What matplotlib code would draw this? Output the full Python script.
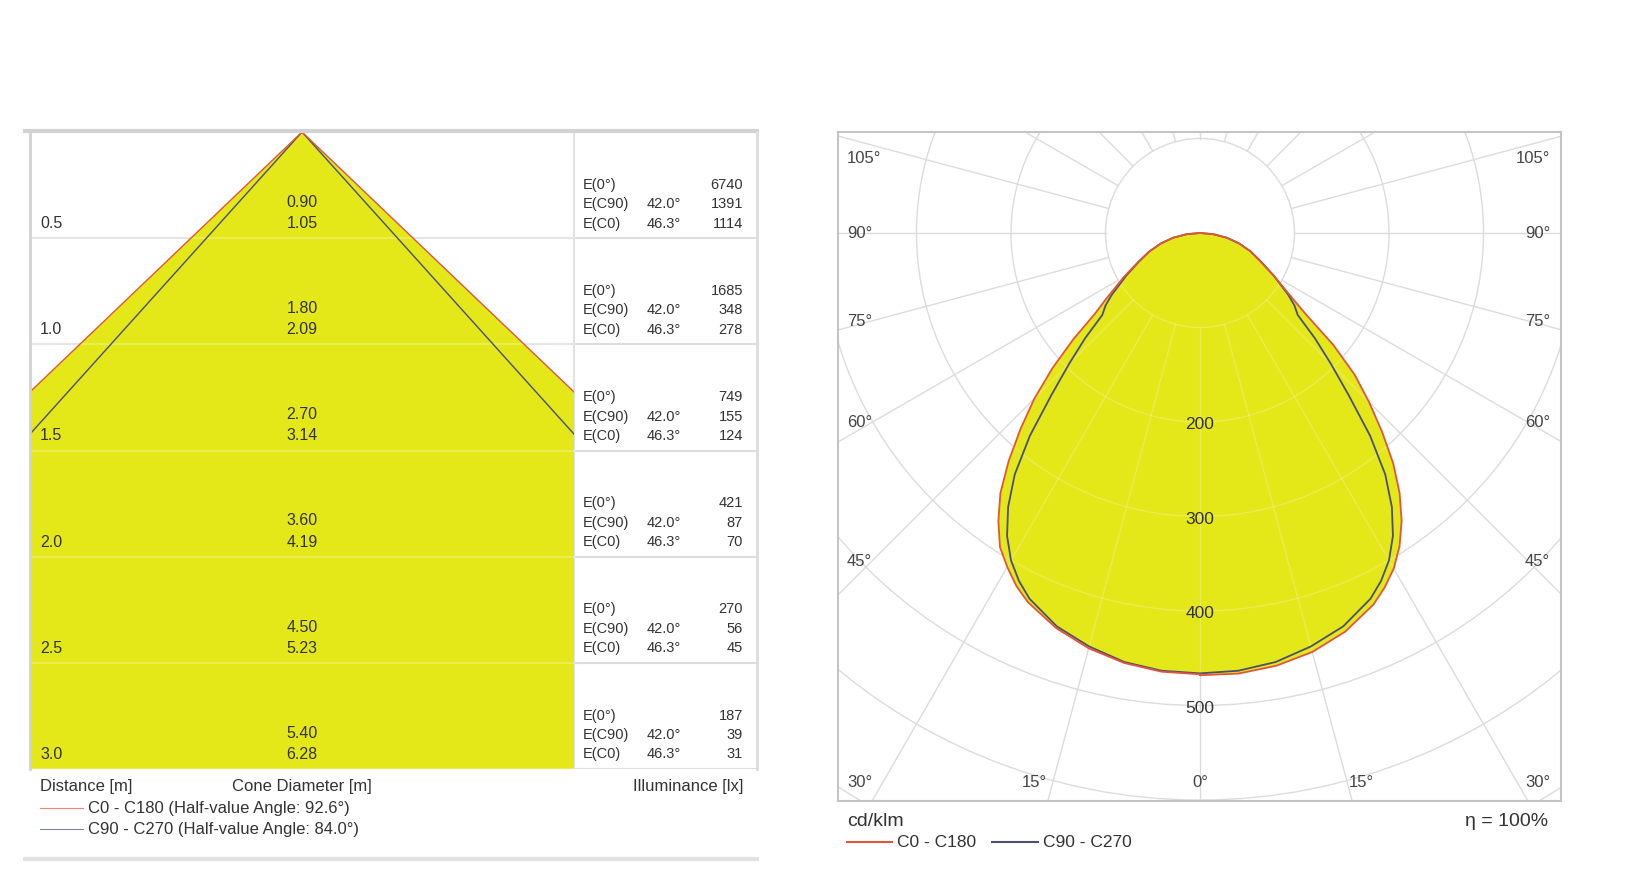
import numpy as np
import matplotlib
matplotlib.use('Agg')
import matplotlib.pyplot as plt
from matplotlib.lines import Line2D
from matplotlib.patches import Rectangle, Circle, Polygon

# cone diagram data
distances = [0.5, 1.0, 1.5, 2.0, 2.5, 3.0]
diam_c90 = [0.90, 1.80, 2.70, 3.60, 4.50, 5.40]
diam_c0 = [1.05, 2.09, 3.14, 4.19, 5.23, 6.28]
e_0 = [6740, 1685, 749, 421, 270, 187]
e_c90 = [1391, 348, 155, 87, 56, 39]
e_c0 = [1114, 278, 124, 70, 45, 31]
half_angle_c0 = 92.6
half_angle_c90 = 84.0

# polar diagram data (cd/klm), gamma 0 = straight down
gammas = [0, 5, 10, 15, 20, 25, 27.5, 30, 32.5, 35, 37.5, 40, 42.5, 45, 47.5, 50, 52.5, 55,
          60, 65, 70, 75, 80, 85, 90]
i_c0 = [468, 468, 465, 459, 449, 434, 423, 410, 393, 372, 347, 318, 285, 253, 222, 184, 141, 118,
        90, 70, 57, 43, 29, 14, 0]
i_c180 = [467, 466, 462, 455, 445, 431, 421, 408, 394, 372, 347, 315, 281, 248, 212, 175, 140, 121,
          93, 72, 57, 43, 29, 14, 0]
i_c90 = [466, 465, 461, 453, 443, 427, 415, 400, 380, 354, 322, 280, 233, 196, 165, 135, 126, 114,
         90, 71, 57, 43, 29, 14, 0]
i_c270 = i_c90
ring_labels = [200, 300, 400, 500]

FONT = ['Liberation Sans', 'DejaVu Sans']
plt.rcParams['font.family'] = FONT
YELLOW = '#E4E718'
RED = '#E2553A'
BLUE = '#4B4F78'
GRID = '#DCDCDC'
TXT = '#333333'

W, H = 1630, 879
fig = plt.figure(figsize=(W / 100, H / 100), dpi=100)
fx = lambda px: px / W
fy = lambda py: 1 - py / H

# ---------------- left: cone diagram ----------------
top, bot = 133, 770
scale = (bot - top) / 3.0
xl = 272 / scale
xr = 455 / scale
ax = fig.add_axes([fx(30), fy(bot), 727 / W, (bot - top) / H])
ax.set_xlim(-xl, xr)
ax.set_ylim(3, 0)
ax.axis('off')

clip = Rectangle((-xl, 0), 2 * xl, 3, transform=ax.transData, fill=False)
t0 = np.tan(np.radians(half_angle_c0 / 2))
t90 = np.tan(np.radians(half_angle_c90 / 2))
dmax = distances[-1]
cone = Polygon([(0, 0), (-t0 * dmax, dmax), (t0 * dmax, dmax)], closed=True,
               facecolor=YELLOW, edgecolor='none', zorder=2)
ax.add_patch(cone)
cone.set_clip_path(clip)
for t, c in [(t90, BLUE), (t0, RED)]:
    ln, = ax.plot([-t * dmax, 0, t * dmax], [dmax, 0, dmax], color=c, lw=1.0, zorder=4)
    ln.set_clip_path(clip)

for d in distances:
    ax.plot([-xl, xr], [d, d], color='#DDDDDD', lw=1.5, zorder=1)
    ax.plot([-xl, xl], [d, d], color='white', lw=1.5, alpha=0.25, zorder=3)
ax.plot([xl, xl], [0, 3], color='#DDDDDD', lw=1.2, zorder=1)

for i, d in enumerate(distances):
    ax.text(-xl + 10 / scale, d - 0.073, f'{d:.1f}', ha='left', va='center', fontsize=11.5, color=TXT, zorder=5)
    ax.text(0, d - 0.173, f'{diam_c90[i]:.2f}', ha='center', va='center', fontsize=11.5, color=TXT, zorder=5)
    ax.text(0, d - 0.073, f'{diam_c0[i]:.2f}', ha='center', va='center', fontsize=11.5, color=TXT, zorder=5)
    rows = [('E(0°)', '', e_0[i]),
            ('E(C90)', f'{half_angle_c90 / 2:.1f}°', e_c90[i]),
            ('E(C0)', f'{half_angle_c0 / 2:.1f}°', e_c0[i])]
    for k, (lab, ang, val) in enumerate(rows):
        yy = d - 0.256 + k * 0.0915
        ax.text(xl + 9 / scale, yy, lab, ha='left', va='center', fontsize=10.5, color=TXT)
        ax.text(xl + 90 / scale, yy, ang, ha='center', va='center', fontsize=10.5, color=TXT)
        ax.text(xl + 169 / scale, yy, str(val), ha='right', va='center', fontsize=10.5, color=TXT)

yb = 3 + 17 / scale
ax.text(-xl + 10 / scale, yb, 'Distance [m]', ha='left', va='center', fontsize=12, color=TXT)
ax.text(0, yb, 'Cone Diameter [m]', ha='center', va='center', fontsize=12, color=TXT)
ax.text(xl + 169 / scale, yb, 'Illuminance [lx]', ha='right', va='center', fontsize=12, color=TXT)
lx0, lx1 = -xl + 10 / scale, -xl + 53 / scale
ly0, ly1 = 3 + 39 / scale, 3 + 60 / scale
ax.plot([lx0, lx1], [ly0, ly0], color=RED, lw=0.8, alpha=0.7, clip_on=False)
ax.plot([lx0, lx1], [ly1, ly1], color=BLUE, lw=0.8, alpha=0.7, clip_on=False)
ax.text(lx1 + 5 / scale, ly0, f'C0 - C180 (Half-value Angle: {half_angle_c0}°)', ha='left',
        va='center', fontsize=12, color=TXT)
ax.text(lx1 + 5 / scale, ly1, f'C90 - C270 (Half-value Angle: {half_angle_c90}°)', ha='left',
        va='center', fontsize=12, color=TXT)

fig.add_artist(Line2D([fx(25), fx(757)], [fy(top - 1), fy(top - 1)], color='#D2D2D2', lw=3))
fig.add_artist(Line2D([fx(30), fx(30)], [fy(top), fy(bot)], color='#D2D2D2', lw=2))
fig.add_artist(Line2D([fx(757), fx(757)], [fy(top), fy(bot)], color='#DDDDDD', lw=2))
fig.add_artist(Line2D([fx(25), fx(757)], [fy(860), fy(860)], color='#E2E2E2', lw=3))

# ---------------- right: polar diagram ----------------
k = 0.945  # px per cd/klm
cx, cy = 1200, 234
pax = fig.add_axes([fx(838), fy(802), 723 / W, 669 / H])
pax.set_xlim((838 - cx) / k, (1561 - cx) / k)
pax.set_ylim((cy - 802) / k, (cy - 133) / k)
pax.set_xticks([])
pax.set_yticks([])
for s in pax.spines.values():
    s.set_color('#C4C4C4')
    s.set_linewidth(1.5)


def grid(alpha, color, z, clip_patch=None):
    arts = []
    for r in range(100, 1000, 100):
        c = Circle((0, 0), r, fill=False, edgecolor=color, lw=1.0, alpha=alpha, zorder=z)
        pax.add_patch(c)
        arts.append(c)
    for a in range(0, 360, 15):
        ar = np.radians(a)
        ln, = pax.plot([100 * np.sin(ar), 1000 * np.sin(ar)], [-100 * np.cos(ar), -1000 * np.cos(ar)],
                       color=color, lw=1.0, alpha=alpha, zorder=z)
        arts.append(ln)
    if clip_patch is not None:
        for a in arts:
            a.set_clip_path(clip_patch)


grid(1.0, GRID, 1)
g = np.radians(gammas)


def outline(left, right):
    xs = np.concatenate([-np.array(left)[::-1] * np.sin(g[::-1]), np.array(right) * np.sin(g)])
    ys = np.concatenate([-np.array(left)[::-1] * np.cos(g[::-1]), -np.array(right) * np.cos(g)])
    return xs, ys


x0, y0 = outline(i_c180, i_c0)
x9, y9 = outline(i_c270, i_c90)
fill = pax.fill(x0, y0, color=YELLOW, zorder=2, lw=0)[0]
grid(0.3, '#F8F8D8', 3, clip_patch=fill)
pax.plot(x9, y9, color=BLUE, lw=1.3, zorder=4)
pax.plot(x0, y0, color=RED, lw=1.3, zorder=4)

for r in ring_labels:
    pax.text(0, -r - 2, str(r), ha='center', va='center', fontsize=12.5, color='#333333', zorder=6)

side_labels = [(105, 80), (90, 0), (75, -93), (60, -200), (45, -347)]
for a, yy in side_labels:
    pax.text((847 - cx) / k, yy, f'{a}°', ha='left', va='center', fontsize=12, color='#444444')
    pax.text((1550 - cx) / k, yy, f'{a}°', ha='right', va='center', fontsize=12, color='#444444')
bottom_labels = [((847 - cx) / k, '30°', 'left'), (-175, '15°', 'center'), (0, '0°', 'center'),
                 (171, '15°', 'center'), ((1550 - cx) / k, '30°', 'right')]
for xx, lab, ha in bottom_labels:
    pax.text(xx, (cy - 783) / k, lab, ha=ha, va='center', fontsize=12, color='#444444')

fig.text(fx(847), fy(822), 'cd/klm', ha='left', va='center', fontsize=14, color=TXT)
fig.text(fx(1548), fy(822), 'η = 100%', ha='right', va='center', fontsize=14, color=TXT)
fig.add_artist(Line2D([fx(847), fx(892)], [fy(843), fy(843)], color=RED, lw=1.5))
fig.text(fx(897), fy(843), 'C0 - C180', ha='left', va='center', fontsize=12.5, color=TXT)
fig.add_artist(Line2D([fx(992), fx(1038)], [fy(843), fy(843)], color=BLUE, lw=1.5))
fig.text(fx(1043), fy(843), 'C90 - C270', ha='left', va='center', fontsize=12.5, color=TXT)

fig.savefig('out.png', dpi=100, facecolor='white')
